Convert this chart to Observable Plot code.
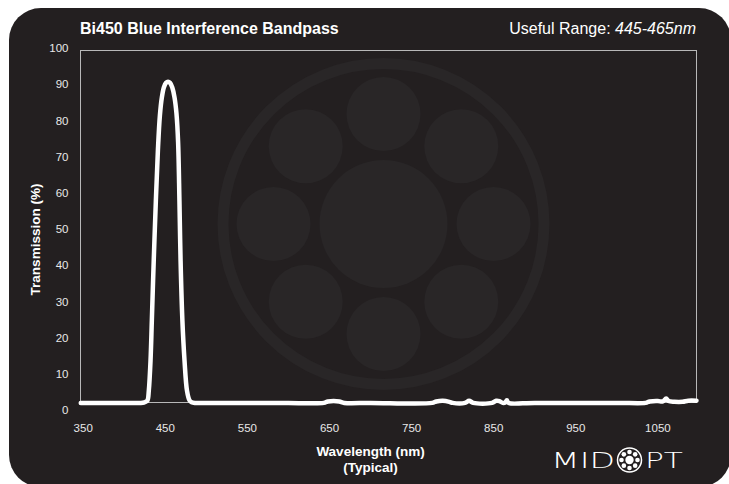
<!DOCTYPE html>
<html>
<head>
<meta charset="utf-8">
<script src="https://cdn.jsdelivr.net/npm/d3@7"></script>
<script src="https://cdn.jsdelivr.net/npm/@observablehq/plot@0.6"></script>
<style>
  html, body { margin: 0; padding: 0; background: #ffffff; }
  #wrap { position: relative; width: 729px; height: 484px; overflow: hidden; background: #ffffff; font-family: "Liberation Sans", Arial, sans-serif; }
  #panel { position: absolute; left: 9px; top: 8px; width: 722px; height: 479px; border-radius: 32px; background: #231f20; }
  #mark { position: absolute; left: 0; top: 0; }
  #chart { position: absolute; left: 0; top: 0; }
  #title { position: absolute; left: 80px; top: 20px; color: #ffffff; font-weight: bold; font-size: 16px; white-space: nowrap; }
  #range { position: absolute; right: 33px; top: 20px; color: #ffffff; font-size: 16px; white-space: nowrap; }
  #logo { position: absolute; left: 0; top: 0; }
</style>
</head>
<body>
<div id="wrap">
  <div id="panel"></div>
  <svg id="mark" width="729" height="484"></svg>
  <div id="chart"></div>
  <div id="title">Bi450 Blue Interference Bandpass</div>
  <div id="range">Useful Range: <i>445-465nm</i></div>
  <svg id="logo" width="729" height="484"></svg>
</div>
<script>
// ---- data ----
const wavelength = [347, 380, 410, 420, 424, 426, 428.3, 429.9, 432, 433.6, 435.9, 438.5, 441, 443.4, 445.8, 448.3, 450.8, 453.3, 455.8, 458.5, 461.2, 463.6, 465.6, 467.2, 468.6, 470.8, 473.4, 476.4, 479.5, 482, 486, 500, 600, 643, 648, 655, 662, 668, 700, 775, 780, 788, 796, 800, 815, 820, 825, 848, 853, 857, 861, 864, 866, 868, 900, 1000, 1035, 1040, 1050, 1056, 1060, 1063, 1070, 1080, 1087, 1097];
const transmission = [2.1, 2.1, 2.1, 2.1, 2.2, 2.4, 2.8, 5.5, 13.8, 24.9, 41.4, 58, 72, 81.5, 86.5, 89.3, 90.5, 90.8, 90.5, 89.2, 86.5, 82, 74, 58, 41.4, 24.9, 13.8, 5.5, 2.8, 2.3, 2.1, 2.1, 2.1, 2.1, 2.5, 2.6, 2.5, 2.1, 2.1, 2.1, 2.5, 2.7, 2.4, 2.1, 2.1, 2.7, 2.1, 2.1, 2.7, 2.6, 2.1, 2.2, 2.8, 2.1, 2.1, 2.1, 2.1, 2.5, 2.6, 2.5, 3.3, 2.6, 2.4, 2.4, 2.7, 2.7];
const xTicks = [350, 450, 550, 650, 750, 850, 950, 1050];
const yTicks = [0, 10, 20, 30, 40, 50, 60, 70, 80, 90, 100];
const xDomain = [346.7, 1097];
const yDomain = [0, 100];
const xTitle = "Wavelength (nm)\n(Typical)";
const yTitle = "Transmission (%)";

const rows = wavelength.map((w, i) => ({w, t: transmission[i]}));

// ---- watermark (decoration) ----
const wm = d3.select("#mark");
const wc = "#292627";
const cx = 383.5, cy = 224;
wm.append("circle").attr("cx", cx).attr("cy", cy).attr("r", 160.5).attr("fill", "none").attr("stroke", wc).attr("stroke-width", 11);
wm.append("circle").attr("cx", cx).attr("cy", cy).attr("r", 64).attr("fill", wc);
for (let k = 0; k < 8; k++) {
  const a = k * Math.PI / 4;
  wm.append("circle").attr("cx", cx + 110 * Math.sin(a)).attr("cy", cy - 110 * Math.cos(a)).attr("r", 37).attr("fill", wc);
}

// ---- chart ----
const chart = Plot.plot({
  width: 729,
  height: 484,
  marginLeft: 80,
  marginRight: 33,
  marginTop: 48,
  marginBottom: 74,
  style: {background: "transparent", color: "#e8e8e8", fontFamily: "'Liberation Sans', Arial, sans-serif", fontSize: "11.5px"},
  x: {domain: xDomain, ticks: xTicks, tickFormat: d => String(d)},
  y: {domain: yDomain, ticks: yTicks, tickFormat: d => String(d)},
  marks: [
    Plot.frame({stroke: "#b8b8b8", strokeWidth: 1, insetTop: 2, insetBottom: 8}),
    Plot.line(rows, {x: "w", y: "t", stroke: "#ffffff", strokeWidth: 4.5, curve: "catmull-rom", strokeLinejoin: "round"}),
    Plot.axisX({ticks: xTicks, tickFormat: d => String(d), tickSize: 0, tickPadding: 13, label: null, fill: "#e8e8e8", fontSize: 11.5}),
    Plot.axisY({ticks: yTicks, tickFormat: d => String(d), tickSize: 0, tickPadding: 12, label: null, fill: "#e8e8e8", fontSize: 11.5}),
    Plot.text([xTitle], {frameAnchor: "bottom", dx: -18, dy: 34, fill: "#ffffff", fontWeight: "bold", fontSize: 13.5, lineAnchor: "top", lineHeight: 1.2}),
    Plot.text([yTitle], {frameAnchor: "left", textAnchor: "middle", dx: -45, dy: 10, rotate: -90, fill: "#ffffff", fontWeight: "bold", fontSize: 13.5})
  ]
});
document.getElementById("chart").appendChild(chart);

// ---- MIDOPT logo (decoration) ----
const lg = d3.select("#logo");
const logoFont = "'DejaVu Sans', sans-serif";
lg.append("text").attr("x", 551).attr("y", 468).attr("fill", "#ffffff").attr("font-family", logoFont).attr("font-weight", 200).attr("font-size", 22).attr("textLength", 64).attr("lengthAdjust", "spacingAndGlyphs").text("MID");
lg.append("text").attr("x", 645).attr("y", 468).attr("fill", "#ffffff").attr("font-family", logoFont).attr("font-weight", 200).attr("font-size", 22).attr("textLength", 38).attr("lengthAdjust", "spacingAndGlyphs").text("PT");
const lx = 629.5, ly = 460;
lg.append("circle").attr("cx", lx).attr("cy", ly).attr("r", 12).attr("fill", "none").attr("stroke", "#fff").attr("stroke-width", 1.5);
lg.append("circle").attr("cx", lx).attr("cy", ly).attr("r", 4.2).attr("fill", "#fff");
for (let k = 0; k < 8; k++) {
  const a = k * Math.PI / 4;
  lg.append("circle").attr("cx", lx + 8 * Math.sin(a)).attr("cy", ly - 8 * Math.cos(a)).attr("r", 2.3).attr("fill", "#fff");
}
</script>
</body>
</html>
